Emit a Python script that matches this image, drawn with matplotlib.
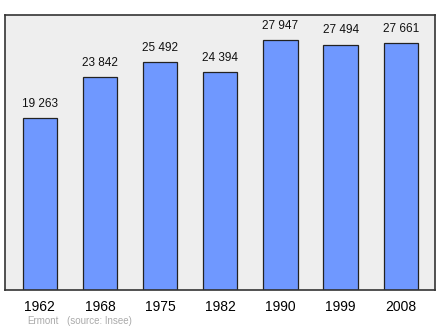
import matplotlib
matplotlib.use("Agg")
import matplotlib.pyplot as plt

# Population data
years = ["1962", "1968", "1975", "1982", "1990", "1999", "2008"]
population = [19263, 23842, 25492, 24394, 27947, 27494, 27661]
value_labels = ["19 263", "23 842", "25 492", "24 394", "27 947", "27 494", "27 661"]

plt.rcParams["font.family"] = ["Liberation Sans", "DejaVu Sans"]

fig = plt.figure(figsize=(4.4, 3.29), dpi=100)
ax = fig.add_axes([5 / 440, 39 / 329, 430 / 440, 275 / 329])
ax.set_facecolor("#eeeeee")

x = list(range(len(years)))
ax.bar(x, population, width=0.57, color="#6f98ff", edgecolor="#222222", linewidth=0.9, zorder=2)

for xi, v, lab in zip(x, population, value_labels):
    ax.text(xi, v + 900, lab, ha="center", va="bottom", fontsize=8.5, color="#111111")

ax.set_xlim(-0.58, 6.57)
ax.set_ylim(0, 30800)
ax.set_yticks([])
ax.set_xticks(x)
ax.set_xticklabels(years, fontsize=10)
ax.tick_params(axis="x", length=0, pad=7)
for s in ax.spines.values():
    s.set_color("#333333")
    s.set_linewidth(1.2)

fig.text(27 / 440, 1 - 321 / 329, "Ermont", fontsize=7, color="#aaaaaa", va="center")
fig.text(67 / 440, 1 - 321 / 329, "(source: Insee)", fontsize=7, color="#aaaaaa", va="center")

fig.savefig("out.png", dpi=100, facecolor="white")
